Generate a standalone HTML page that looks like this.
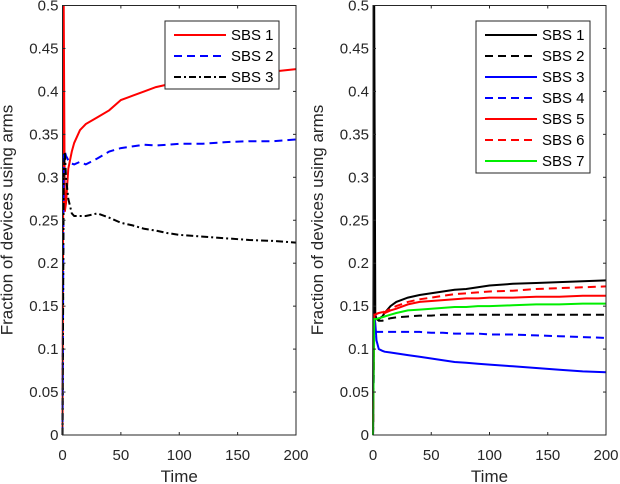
<!DOCTYPE html>
<html><head><meta charset="utf-8"><style>
body{margin:0;background:#fff;}
svg{display:block;font-family:"Liberation Sans",Arial,sans-serif;}
</style></head><body>
<svg id="chart" width="620" height="484"></svg>
<script>
const times=[0,1,2,3,5,8,10,15,20,30,40,50,60,70,80,90,100,120,140,160,180,200];
const yTicks=[0,0.05,0.1,0.15,0.2,0.25,0.3,0.35,0.4,0.45,0.5];
const yTickLabels=["0","0.05","0.1","0.15","0.2","0.25","0.3","0.35","0.4","0.45","0.5"];
const xTicks=[0,50,100,150,200];
const leftNames=["SBS 1","SBS 2","SBS 3"];
const leftS1=[0,0.5,0.26,0.27,0.31,0.33,0.34,0.355,0.362,0.37,0.378,0.39,0.395,0.4,0.405,0.408,0.412,0.415,0.418,0.42,0.423,0.426];
const leftS2=[0,0.33,0.33,0.325,0.32,0.316,0.315,0.318,0.315,0.322,0.33,0.334,0.336,0.338,0.337,0.338,0.339,0.339,0.341,0.342,0.342,0.344];
const leftS3=[0,0.3,0.33,0.3,0.275,0.258,0.255,0.255,0.255,0.258,0.253,0.247,0.244,0.24,0.238,0.235,0.233,0.231,0.229,0.227,0.226,0.224];
const rightNames=["SBS 1","SBS 2","SBS 3","SBS 4","SBS 5","SBS 6","SBS 7"];
const rightS1=[0,0.5,0.14,0.135,0.135,0.138,0.142,0.15,0.155,0.16,0.163,0.165,0.167,0.169,0.17,0.172,0.174,0.176,0.177,0.178,0.179,0.18];
const rightS2=[0,0.13,0.135,0.135,0.133,0.133,0.134,0.136,0.137,0.138,0.139,0.139,0.14,0.14,0.14,0.14,0.14,0.14,0.14,0.14,0.14,0.14];
const rightS3=[0,0.14,0.13,0.11,0.1,0.098,0.097,0.096,0.095,0.093,0.091,0.089,0.087,0.085,0.084,0.083,0.082,0.08,0.078,0.076,0.074,0.073];
const rightS4=[0,0.12,0.12,0.12,0.12,0.12,0.12,0.12,0.12,0.12,0.12,0.119,0.119,0.118,0.118,0.118,0.117,0.117,0.116,0.115,0.114,0.113];
const rightS5=[0,0.14,0.14,0.141,0.142,0.143,0.142,0.145,0.147,0.152,0.155,0.156,0.157,0.158,0.159,0.159,0.16,0.16,0.161,0.161,0.162,0.162];
const rightS6=[0,0.14,0.14,0.141,0.142,0.144,0.143,0.147,0.15,0.155,0.158,0.16,0.162,0.164,0.165,0.166,0.167,0.168,0.17,0.171,0.172,0.173];
const rightS7=[0,0.135,0.135,0.135,0.136,0.137,0.138,0.14,0.142,0.145,0.146,0.147,0.148,0.149,0.149,0.15,0.15,0.151,0.152,0.152,0.153,0.153];

const NS="http://www.w3.org/2000/svg";
const svg=document.getElementById('chart');
function mk(tag,attrs,parent,text){const e=document.createElementNS(NS,tag);for(const k in attrs)e.setAttribute(k,attrs[k]);if(text!==undefined)e.textContent=text;(parent||svg).appendChild(e);return e;}
const Y0=435,Y1=5.5;
function yS(v){return Y0-(v/0.5)*(Y0-Y1);}
function panel(name,x0,x1,series,styles,names,leg){
  const g=mk('g',{});
  
  
  const xS=t=>x0+(t/200)*(x1-x0);
  mk('rect',{x:x0,y:Y1,width:x1-x0,height:Y0-Y1,fill:'#fff',stroke:'none'},g);
  series.forEach((s,i)=>{
    const d=times.map((t,j)=>(j?'L':'M')+xS(t).toFixed(1)+','+yS(s[j]).toFixed(1)).join('');
    const p=mk('path',{d:d,fill:'none',stroke:styles[i][0],'stroke-width':2,'stroke-dasharray':styles[i][1]},g);
    
    
  });
  mk('rect',{x:x0,y:Y1,width:x1-x0,height:Y0-Y1,fill:'none',stroke:'#262626','stroke-width':1},g);
  yTicks.forEach((v,i)=>{
    const y=yS(v);
    mk('line',{x1:x0,x2:x0+3,y1:y,y2:y,stroke:'#262626'},g);
    mk('line',{x1:x1,x2:x1-3,y1:y,y2:y,stroke:'#262626'},g);
    const t=mk('text',{x:x0-4,y:y+5,'text-anchor':'end','font-size':15,fill:'#262626'},g,yTickLabels[i]);
    
    
  });
  xTicks.forEach(v=>{
    const x=xS(v);
    mk('line',{x1:x,x2:x,y1:Y0,y2:Y0-3,stroke:'#262626'},g);
    mk('line',{x1:x,x2:x,y1:Y1,y2:Y1+3,stroke:'#262626'},g);
    const t=mk('text',{x:x,y:460,'text-anchor':'middle','font-size':15,fill:'#262626'},g,String(v));
    
    
  });
  const xt=mk('text',{x:(x0+x1)/2,y:482,'text-anchor':'middle','font-size':17,fill:'#262626'},g,'Time');
  
  
  const yx=x0-50;
  const yt=mk('text',{x:yx,y:220,'text-anchor':'middle','font-size':17,fill:'#262626',transform:'rotate(-90 '+yx+' 220)'},g,'Fraction of devices using arms');
  
  
  const lg=mk('g',{},g);
  
  
  mk('rect',{x:leg[0],y:21,width:114,height:names.length*21+5,fill:'#fff',stroke:'#262626'},lg);
  names.forEach((n,i)=>{
    const y=35+i*21;
    const e=mk('g',{},lg);
    
    
    mk('line',{x1:leg[0]+9,x2:leg[0]+61,y1:y,y2:y,stroke:styles[i][0],'stroke-width':2,'stroke-dasharray':styles[i][1]},e);
    mk('text',{x:leg[0]+66,y:y+5,'font-size':15,fill:'#000'},e,n);
  });
}
panel('left-panel',62.5,296,[leftS1,leftS2,leftS3],[['#ff0000','none'],['#0000ff','8,5'],['#000','7,3,2,3']],leftNames,[165]);
panel('right-panel',373,606,[rightS1,rightS2,rightS3,rightS4,rightS5,rightS6,rightS7],
 [['#000','none'],['#000','8,5'],['#0000ff','none'],['#0000ff','8,5'],['#ff0000','none'],['#ff0000','8,5'],['#00ee00','none']],rightNames,[476]);
</script>
</body></html>
